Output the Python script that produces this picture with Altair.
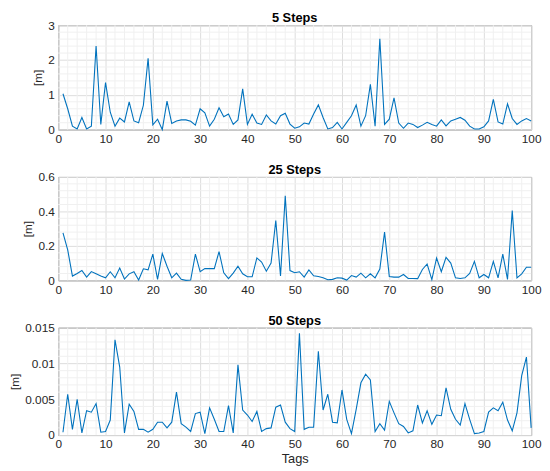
import altair as alt
import pandas as pd

tags = list(range(1, 101))

steps5 = [1.03, 0.6, 0.1, 0.02, 0.35, 0.02, 0.1, 2.4, 0.15, 1.35,
          0.5, 0.1, 0.33, 0.22, 0.8, 0.25, 0.2, 0.7, 2.05, 0.14,
          0.3, 0.0, 0.82, 0.18, 0.25, 0.28, 0.28, 0.24, 0.13, 0.6,
          0.48, 0.1, 0.3, 0.63, 0.37, 0.45, 0.15, 0.28, 1.17, 0.15,
          0.44, 0.19, 0.15, 0.42, 0.25, 0.16, 0.4, 0.47, 0.16, 0.04,
          0.08, 0.19, 0.16, 0.45, 0.71, 0.35, 0.02, 0.06, 0.21, 0.02,
          0.21, 0.4, 0.71, 0.1, 0.4, 1.3, 0.1, 2.61, 0.15, 0.3,
          0.91, 0.19, 0.04, 0.19, 0.15, 0.06, 0.13, 0.21, 0.15, 0.1,
          0.28, 0.11, 0.25, 0.3, 0.35, 0.27, 0.1, 0.02, 0.02, 0.08,
          0.25, 0.87, 0.22, 0.16, 0.74, 0.32, 0.15, 0.25, 0.32, 0.25]

steps25 = [0.276, 0.177, 0.025, 0.04, 0.057, 0.019, 0.051, 0.038, 0.025, 0.015,
           0.05, 0.015, 0.072, 0.008, 0.038, 0.05, 0.002, 0.067, 0.061, 0.152,
           0.006, 0.156, 0.082, 0.015, 0.042, 0.006, 0.0, 0.002, 0.152, 0.05,
           0.068, 0.068, 0.068, 0.167, 0.044, 0.01, 0.042, 0.082, 0.038, 0.021,
           0.021, 0.13, 0.106, 0.053, 0.1, 0.347, 0.025, 0.49, 0.057, 0.044,
           0.05, 0.019, 0.061, 0.027, 0.023, 0.015, 0.004, 0.006, 0.015, 0.013,
           0.002, 0.028, 0.019, 0.042, 0.015, 0.038, 0.015, 0.066, 0.28, 0.023,
           0.019, 0.019, 0.034, 0.011, 0.011, 0.01, 0.063, 0.095, 0.004, 0.13,
           0.05, 0.133, 0.1, 0.015, 0.011, 0.015, 0.04, 0.11, 0.015, 0.034,
           0.015, 0.11, 0.015, 0.152, 0.006, 0.405, 0.015, 0.038, 0.076, 0.076]

steps50 = [0.0004, 0.0057, 0.0008, 0.005, 0.0003, 0.0034, 0.0032, 0.0044, 0.0004, 0.0005,
           0.0021, 0.0133, 0.0095, 0.0003, 0.0043, 0.0033, 0.0008, 0.0008, 0.0004, 0.0008,
           0.0018, 0.0018, 0.001, 0.0018, 0.006, 0.0016, 0.0011, 0.0005, 0.003, 0.0032,
           0.0002, 0.0038, 0.0022, 0.0005, 0.0005, 0.0041, 0.0003, 0.0098, 0.0035, 0.0028,
           0.0019, 0.0033, 0.0005, 0.0009, 0.001, 0.0039, 0.0042, 0.0018, 0.0009, 0.0005,
           0.0142, 0.0008, 0.0011, 0.0011, 0.0117, 0.0035, 0.0057, 0.0018, 0.0017, 0.0063,
           0.0022, 0.0002, 0.0036, 0.0073, 0.0085, 0.0077, 0.0005, 0.0016, 0.0007, 0.0047,
           0.0031, 0.0016, 0.0012, 0.0003, 0.0006, 0.0042, 0.0017, 0.0034, 0.0015, 0.0028,
           0.0027, 0.0066, 0.0036, 0.0022, 0.0014, 0.0044, 0.0022, 0.0002, 0.0003, 0.0005,
           0.0032, 0.0038, 0.0034, 0.0046, 0.0021, 0.0006, 0.0031, 0.0083, 0.0109, 0.001]

panel_titles = ["5 Steps", "25 Steps", "50 Steps"]
y_max = [3, 0.6, 0.015]
y_major = [[0, 1, 2, 3], [0, 0.2, 0.4, 0.6], [0, 0.005, 0.01, 0.015]]
y_minor = [
    [0.2, 0.4, 0.6, 0.8, 1.2, 1.4, 1.6, 1.8, 2.2, 2.4, 2.6, 2.8],
    [0.04, 0.08, 0.12, 0.16, 0.24, 0.28, 0.32, 0.36, 0.44, 0.48, 0.52, 0.56],
    [0.001, 0.002, 0.003, 0.004, 0.006, 0.007, 0.008, 0.009,
     0.011, 0.012, 0.013, 0.014],
]
x_major = [0, 10, 20, 30, 40, 50, 60, 70, 80, 90, 100]
x_minor = [v for v in range(2, 100, 2) if v % 10 != 0]
heights = [106, 105, 109]

FONT = "Liberation Sans"
LINE = "#0072BD"
MINOR = "#f0f0f0"


def panel(values, title, ymax, ymaj, ymin, h, last):
    df = pd.DataFrame({"Tag": tags, "Err": values})
    xs = alt.Scale(domain=[0, 100], nice=False, zero=False)
    ys = alt.Scale(domain=[0, ymax], nice=False)
    xaxis = alt.Axis(values=x_major, format="d", labelFlush=False,
                     title="Tags" if last else None, titlePadding=3,
                     titleFontSize=13)
    yaxis = alt.Axis(values=ymaj, format=".3~f", title="[m]", titlePadding=3)
    mx = alt.Chart(pd.DataFrame({"v": x_minor})).mark_rule(
        color=MINOR, strokeWidth=1
    ).encode(x=alt.X("v:Q", scale=xs, axis=xaxis))
    my = alt.Chart(pd.DataFrame({"v": ymin})).mark_rule(
        color=MINOR, strokeWidth=1
    ).encode(y=alt.Y("v:Q", scale=ys, axis=yaxis))
    line = alt.Chart(df).mark_line(color=LINE, strokeWidth=1.1).encode(
        x=alt.X("Tag:Q", scale=xs, axis=xaxis),
        y=alt.Y("Err:Q", scale=ys, axis=yaxis),
    )
    return alt.layer(mx, my, line).properties(
        width=480, height=h,
        title=alt.TitleParams(title, fontSize=13, fontWeight="bold",
                              font=FONT, color="black", anchor="middle",
                              offset=-6, frame="group"),
    )


panels = [
    panel(s, t, m, mj, mn, h, i == 2)
    for i, (s, t, m, mj, mn, h) in enumerate(
        zip([steps5, steps25, steps50], panel_titles, y_max, y_major,
            y_minor, heights))
]

chart = alt.vconcat(*panels, spacing=18).properties(
    padding={"left": 0, "top": 0, "right": 0, "bottom": 0}
).configure_axis(
    labelFont=FONT, labelFontSize=12, labelColor="#262626",
    titleFont=FONT, titleFontSize=12, titleFontWeight="normal",
    titleColor="#262626", gridColor="#dcdcdc", domain=False, ticks=False,
    labelPadding=4,
).configure_view(
    stroke="#707070", strokeWidth=1
)

chart.save("out.html", embed_options={"renderer": "svg", "actions": False})
